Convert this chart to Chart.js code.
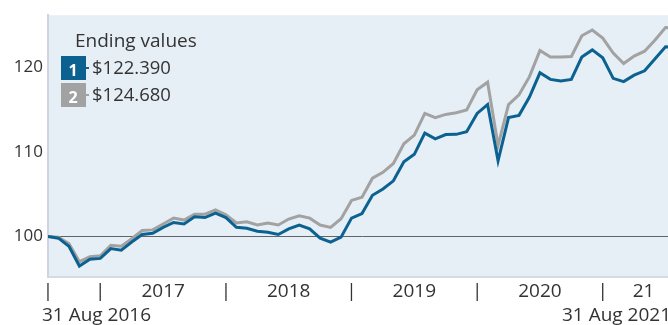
<!DOCTYPE html>
<html>
<head>
<meta charset="utf-8">
<script src="https://cdn.jsdelivr.net/npm/chart.js@4"></script>
<style>
  html, body { margin: 0; padding: 0; background: #fff; overflow: hidden; }
  #wrap { width: 676px; height: 325px; }
</style>
</head>
<body>
<div id="wrap"><canvas id="chart" width="676" height="325"></canvas></div>
<script>
// month-end values, 31 Aug 2016 .. 31 Aug 2021 (61 points, start = 100)
const fund1Values = [
    100.0, 99.8, 98.84, 96.5, 97.3, 97.4, 98.57, 98.37, 99.34, 100.23,
    100.38, 101.08, 101.66, 101.48, 102.33, 102.24, 102.76, 102.24, 101.08, 100.97,
    100.62, 100.5, 100.23, 100.9, 101.36, 100.9, 99.8, 99.34, 99.92, 102.17,
    102.71, 104.88, 105.62, 106.59, 108.84, 109.73, 112.24, 111.55, 112.06, 112.09,
    112.4, 114.57, 115.62, 108.95, 114.07, 114.34, 116.51, 119.38, 118.6, 118.41,
    118.6, 121.24, 122.09, 121.16, 118.72, 118.34, 119.1, 119.62, 121.05, 122.45,
    122.39
];
const fund2Values = [
    100.0, 99.9, 99.15, 97.01, 97.6, 97.71, 98.95, 98.84, 99.73, 100.7,
    100.78, 101.48, 102.17, 101.94, 102.64, 102.64, 103.14, 102.56, 101.59, 101.74,
    101.36, 101.59, 101.36, 102.06, 102.44, 102.17, 101.36, 101.08, 102.1, 104.27,
    104.65, 106.9, 107.6, 108.64, 110.97, 112.01, 114.57, 114.07, 114.45, 114.65,
    114.97, 117.36, 118.26, 110.78, 115.62, 116.78, 118.92, 122.01, 121.24, 121.24,
    121.31, 123.76, 124.45, 123.49, 121.71, 120.47, 121.36, 121.94, 123.26, 124.73,
    124.68
];

const yTicks = [100, 110, 120];
const xTickPos = [0, 5, 11, 17, 23, 29, 35, 41, 47, 53, 56.9];
const xTickText = ['|', '|', '2017', '|', '2018', '|', '2019', '|', '2020', '|', '21'];
const startLabel = '31 Aug 2016';
const endLabel = '31 Aug 2021';
const legendTitle = 'Ending values';

const BLUE = '#0b6290';
const GREY = '#a2a2a2';
const TEXT = '#333333';
const FONT = '"Open Sans", sans-serif';

const toPoints = arr => arr.map((v, i) => ({ x: i, y: v }));

const panelPlugin = {
    id: 'panel',
    beforeDraw(chart) {
        const { ctx, chartArea: a } = chart;
        ctx.save();
        ctx.fillStyle = '#e6eef6';
        ctx.fillRect(a.left, a.top, a.right - a.left, a.bottom - a.top);
        ctx.restore();
    },
    afterDraw(chart) {
        const { ctx } = chart;
        const xs = chart.scales.x;
        ctx.save();
        ctx.fillStyle = TEXT;
        ctx.font = '19px ' + FONT;
        ctx.textBaseline = 'alphabetic';
        ctx.textAlign = 'left';
        ctx.fillText(startLabel, xs.getPixelForValue(0) - 6, 321);
        ctx.textAlign = 'right';
        ctx.fillText(endLabel, xs.getPixelForValue(60) - 5, 321);

        // legend box with the last value of each series
        const a = chart.chartArea;
        ctx.textAlign = 'left';
        ctx.font = '19px ' + FONT;
        ctx.fillText(legendTitle, a.left + 27, 47);
        const rows = [
            { n: '1', c: BLUE, v: fund1Values[fund1Values.length - 1], y: 56 },
            { n: '2', c: GREY, v: fund2Values[fund2Values.length - 1], y: 83 }
        ];
        rows.forEach(r => {
            ctx.fillStyle = r.c;
            ctx.fillRect(a.left + 13, r.y, 25, 24);
            ctx.fillRect(a.left + 38, r.y + 11, 3, 2);
            ctx.fillStyle = '#fff';
            ctx.font = 'bold 16px ' + FONT;
            ctx.textAlign = 'center';
            ctx.fillText(r.n, a.left + 25, r.y + 20);
            ctx.fillStyle = TEXT;
            ctx.font = '18.5px ' + FONT;
            ctx.textAlign = 'left';
            ctx.fillText('$' + r.v.toFixed(3), a.left + 44, r.y + 18);
        });
        ctx.restore();
    }
};

new Chart(document.getElementById('chart'), {
    type: 'line',
    data: {
        datasets: [
            { label: '1', data: toPoints(fund1Values), borderColor: BLUE, borderWidth: 3, pointRadius: 0, tension: 0 },
            { label: '2', data: toPoints(fund2Values), borderColor: GREY, borderWidth: 3, pointRadius: 0, tension: 0 }
        ]
    },
    options: {
        responsive: false,
        animation: false,
        devicePixelRatio: 1,
        layout: { padding: { top: 11, left: 0, right: 0, bottom: 0 } },
        plugins: { legend: { display: false }, tooltip: { enabled: false } },
        scales: {
            x: {
                type: 'linear',
                min: 0,
                max: 60,
                afterFit(s) { s.height = 48; },
                afterBuildTicks(s) { s.ticks = xTickPos.map(v => ({ value: v })); },
                ticks: {
                    autoSkip: false,
                    maxRotation: 0,
                    padding: 3,
                    color: TEXT,
                    font: { family: FONT, size: 19 },
                    callback: (v, i) => xTickText[i]
                },
                grid: { display: false, drawTicks: false },
                border: { display: true, color: '#d3dbe4', width: 2 }
            },
            y: {
                min: 95.2,
                max: 126.2,
                afterFit(s) { s.width = 48; },
                afterBuildTicks(s) { s.ticks = yTicks.map(v => ({ value: v })); },
                ticks: {
                    padding: 5,
                    color: TEXT,
                    font: { family: FONT, size: 17 }
                },
                grid: {
                    drawTicks: false,
                    lineWidth: 1,
                    color: c => (c.tick && c.tick.value === 100 ? '#5f6469' : 'rgba(0,0,0,0)')
                },
                border: { display: true, color: '#cdd6e0', width: 2 }
            }
        }
    },
    plugins: [panelPlugin]
});
</script>
</body>
</html>
